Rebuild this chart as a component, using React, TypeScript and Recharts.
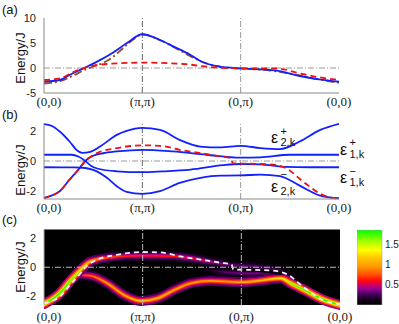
import React from "react";
import {
  LineChart,
  Line,
  XAxis,
  YAxis,
  ReferenceLine,
  CartesianGrid,
  BarChart,
  Bar,
} from "recharts";

// path through the Brillouin zone: 0 = (0,0), 1 = (π,π), 2 = (0,π), 3 = (0,0)
const kTicks = [0, 1, 2, 3];
const kLabels = ["(0,0)", "(π,π)", "(0,π)", "(0,0)"];

// ---- panel (a)
const aBlue = [
  [0, -2.73], [0.16, -2.4], [0.26, -1.4], [0.4, -0.07], [0.54, 1.27], [0.7, 3.07],
  [0.84, 4.93], [1.0, 6.75], [1.18, 5.6], [1.32, 4.27], [1.49, 2.6], [1.59, 1.4],
  [1.79, 0.27], [2.0, -0.07], [2.2, -0.27], [2.37, -0.53], [2.6, -1.6], [2.8, -2.27], [3.0, -2.75],
];
const aBrown = [
  [0, -3.1], [0.15, -2.7], [0.3, -1.5], [0.4, -0.5], [0.5, 0.3], [0.6, 1.0], [0.7, 2.2],
  [0.8, 3.9], [0.9, 5.6], [1.0, 6.7], [1.2, 5.4], [1.4, 3.3], [1.6, 1.3], [1.8, 0.2],
  [2.0, -0.1], [2.3, -0.5], [2.6, -1.5], [2.8, -2.3], [3.0, -2.95],
];
const aRed = [
  [0, -2.4], [0.16, -2.07], [0.3, -0.8], [0.43, 0.13], [0.64, 0.8], [1.0, 1.07],
  [1.45, 0.75], [1.59, 0.4], [1.8, 0.05], [2.0, -0.07], [2.37, -0.1], [2.6, -1.07],
  [2.8, -1.87], [3.0, -2.4],
];

// ---- panel (b)
const bEps2Plus = [
  [0, 2.47], [0.08, 2.35], [0.16, 1.98], [0.26, 1.31], [0.33, 0.75], [0.39, 0.55],
  [0.47, 0.62], [0.57, 0.97], [0.74, 1.75], [0.84, 2.02], [1.0, 2.22], [1.18, 2.09],
  [1.38, 1.42], [1.59, 0.97], [1.79, 0.91], [2.0, 1.02], [2.2, 0.87], [2.4, 0.8],
  [2.6, 1.31], [2.81, 2.09], [3.0, 2.5],
];
const bEps1Minus = [
  [0, 0.42], [0.28, 0.42], [0.35, 0.3], [0.42, 0], [0.48, -0.33], [0.55, -0.52],
  [0.74, -0.69], [1.0, -0.75], [1.2, -0.7], [1.49, -0.58], [1.82, -0.28], [2.0, -0.2],
  [2.2, -0.22], [2.46, -0.4], [2.7, -0.42], [3.0, -0.42],
];
const bEps2Minus = [
  [0, -0.42], [0.3, -0.43], [0.42, -0.47], [0.5, -0.6], [0.64, -1.13], [0.74, -1.69],
  [0.84, -2.07], [1.0, -2.2], [1.18, -2.02], [1.38, -1.47], [1.59, -1.13], [1.79, -0.98],
  [2.0, -0.97], [2.2, -0.91], [2.4, -1.02], [2.6, -1.65], [2.8, -2.3], [3.0, -2.5],
];
const bEps1Plus = [
  [0, -2.47], [0.06, -2.36], [0.16, -2.03], [0.26, -1.25], [0.35, -0.58], [0.42, 0],
  [0.5, 0.35], [0.6, 0.52], [0.74, 0.64], [1.0, 0.75], [1.31, 0.64], [1.65, 0.42],
  [2.0, 0.22], [2.2, 0.25], [2.5, 0.42], [3.0, 0.42],
];
// bare band (red dashed in b, white dashed in c)
const bare = [
  [0, -2.5], [0.06, -2.36], [0.16, -2.03], [0.26, -1.25], [0.35, -0.58], [0.42, 0],
  [0.54, 0.53], [0.74, 0.86], [1.0, 1.05], [1.18, 1.02], [1.38, 0.75], [1.59, 0.53],
  [1.79, 0.31], [1.9, 0.2], [1.92, -0.16], [2.1, -0.18], [2.3, -0.22], [2.46, -0.47],
  [2.63, -1.36], [2.81, -2.2], [3.0, -2.55],
];

// ---- panel (c): [k, energy, spectral weight]
const cUpper = [
  [0, -2.53, 1.8], [0.16, -1.79, 1.8], [0.26, -0.99, 1.7], [0.37, -0.19, 1.45],
  [0.47, 0.39, 1.1], [0.64, 0.66, 0.75], [0.8, 0.76, 0.65], [0.98, 0.8, 0.62],
  [1.32, 0.76, 0.62], [1.49, 0.62, 0.6], [1.69, 0.39, 0.45], [1.89, 0.16, 0.32],
  [2.16, 0.04, 0.28], [2.4, -0.19, 0.2],
];
const cLower = [
  [0.33, -0.53, 0.45], [0.4, -0.55, 0.7], [0.47, -0.58, 0.85], [0.64, -1.1, 1.0],
  [0.81, -1.91, 1.05], [0.98, -2.32, 1.15], [1.15, -2.14, 1.1], [1.32, -1.57, 1.05],
  [1.49, -1.1, 1.0], [1.69, -0.94, 1.0], [1.99, -1.03, 1.05], [2.16, -0.94, 1.1],
  [2.4, -0.76, 1.3], [2.5, -1.1, 1.6], [2.67, -1.68, 1.75], [2.84, -2.26, 1.8], [3.0, -2.6, 1.8],
];
const cFaint = [
  [1.65, -0.15, 0.1], [1.85, -0.35, 0.3], [2.1, -0.42, 0.35], [2.4, -0.4, 0.3], [2.5, -0.55, 0.1],
];
const cbarMax = 1.85;
const cbarTicks = [0.5, 1, 1.5];

const cmapStops: [number, string][] = [
  [0, "#000000"], [0.15, "#1a0020"], [0.3, "#5a0070"], [0.4, "#9a0090"], [0.5, "#d00060"],
  [0.58, "#ff0010"], [0.75, "#ff5000"], [0.95, "#ff9800"], [1.2, "#ffd000"],
  [1.35, "#ffff00"], [1.55, "#b0ff00"], [1.85, "#00ff00"],
];

const hex = (c: string) => [1, 3, 5].map((i) => parseInt(c.slice(i, i + 2), 16));
function cmap(v: number) {
  if (v <= cmapStops[0][0]) return cmapStops[0][1];
  for (let i = 1; i < cmapStops.length; i++) {
    const [v1, c1] = cmapStops[i];
    if (v <= v1) {
      const [v0, c0] = cmapStops[i - 1];
      const t = (v - v0) / (v1 - v0);
      const a = hex(c0), b = hex(c1);
      return `rgb(${a.map((x, j) => Math.round(x + (b[j] - x) * t)).join(",")})`;
    }
  }
  return cmapStops[cmapStops.length - 1][1];
}

const glow = [
  { w: 10, k: 0.25 },
  { w: 6.5, k: 0.45 },
  { w: 3.8, k: 0.7 },
  { w: 1.6, k: 1 },
];

const pts = (arr: number[][]) => arr.map(([x, y]) => ({ x, y }));

const sans = "Liberation Sans, Arial, sans-serif";
const serif = "Liberation Serif, Times New Roman, serif";
const axisGray = "#8a8a8a";
const dashDot = "6 2 1 2";

const XTick = (props: any) => {
  const { x, y, payload } = props;
  const v = payload.value;
  return (
    <text x={x + (v === 0 ? 5 : 0)} y={y} dy="0.71em" textAnchor="middle"
      fontFamily={serif} fontSize={13} fill="#222">
      {kLabels[v]}
    </text>
  );
};

const yTick = { fontSize: 11, fill: "#222", fontFamily: sans };

function xAxis(height: number, margin: number, line: boolean) {
  return (
    <XAxis type="number" dataKey="x" domain={[0, 3]} ticks={kTicks} allowDataOverflow
      height={height} tickLine={false} tickSize={0} tickMargin={margin}
      axisLine={line ? { stroke: axisGray } : false} tick={<XTick />} />
  );
}

function curve(data: number[][], color: string, dash?: string) {
  return (
    <Line data={pts(data)} dataKey="y" type="monotone" stroke={color}
      strokeWidth={1.8} strokeDasharray={dash} dot={false} activeDot={false}
      isAnimationActive={false} />
  );
}

function PanelA() {
  return (
    <LineChart width={399} height={110} margin={{ top: 18, right: 60, left: 0, bottom: 0 }}>
      {xAxis(17, 4, true)}
      <YAxis type="number" domain={[-5, 10]} ticks={[-5, 0, 5, 10]} width={44}
        tickLine={false} tickSize={0} tickMargin={8} tick={yTick} axisLine={{ stroke: axisGray }} />
      <ReferenceLine y={0} stroke="#999" strokeDasharray={dashDot} />
      <ReferenceLine x={1} stroke="#666" strokeDasharray={dashDot} />
      <ReferenceLine x={2} stroke="#999" strokeDasharray={dashDot} />
      {curve(aBrown, "#9a4a25", "8 3 2 3")}
      {curve(aBlue, "#1020ff")}
      {curve(aRed, "#ee1111", "6 4")}
    </LineChart>
  );
}

function PanelB() {
  return (
    <LineChart width={399} height={113} margin={{ top: 18, right: 60, left: 0, bottom: 0 }}>
      {xAxis(19, 4, true)}
      <YAxis type="number" domain={[-2.55, 2.55]} ticks={[-2, -1, 0, 1, 2]} width={44}
        tickLine={false} tickSize={0} tickMargin={8} tick={yTick} axisLine={{ stroke: axisGray }} />
      <ReferenceLine y={0} stroke="#999" strokeDasharray={dashDot} />
      <ReferenceLine x={1} stroke="#666" strokeDasharray={dashDot} />
      <ReferenceLine x={2} stroke="#999" strokeDasharray={dashDot} />
      {curve(bEps2Plus, "#1020ff")}
      {curve(bEps1Minus, "#1020ff")}
      {curve(bEps2Minus, "#1020ff")}
      {curve(bEps1Plus, "#1020ff")}
      {curve(bare, "#ee1111", "6 4")}
    </LineChart>
  );
}

const heat = [
  { id: "faint", data: cFaint },
  { id: "lower", data: cLower },
  { id: "upper", data: cUpper },
];

function PanelC() {
  return (
    <LineChart width={399} height={114} margin={{ top: 19.5, right: 59, left: 0, bottom: 0 }}>
      <defs>
        {heat.map((b) => {
          const x0 = b.data[0][0];
          const x1 = b.data[b.data.length - 1][0];
          return glow.map((g, i) => (
            <linearGradient key={b.id + i} id={`${b.id}-${i}`} x1="0" y1="0" x2="1" y2="0">
              {b.data.map(([x, , w], j) => (
                <stop key={j} offset={(x - x0) / (x1 - x0)} stopColor={cmap(w * g.k)} />
              ))}
            </linearGradient>
          ));
        })}
      </defs>
      <CartesianGrid fill="#000" fillOpacity={1} horizontal={false} vertical={false} />
      {xAxis(19, 7, false)}
      <YAxis type="number" domain={[-2.6, 2.6]} ticks={[-2, -1, 0, 1, 2]} width={44}
        tickLine={false} tickSize={0} tickMargin={8} tick={yTick} axisLine={{ stroke: "#aaa" }} />
      {heat.map((b) =>
        glow.map((g, i) => (
          <Line key={b.id + i} data={pts(b.data)} dataKey="y" type="monotone"
            stroke={`url(#${b.id}-${i})`} strokeWidth={g.w} strokeLinecap="round"
            dot={false} activeDot={false} isAnimationActive={false} />
        ))
      )}
      {curve(bare, "#f2f2f2", "5 4")}
      <ReferenceLine y={0} stroke="#bbb" strokeDasharray={dashDot} />
      <ReferenceLine x={1} stroke="#bbb" strokeDasharray={dashDot} />
      <ReferenceLine x={2} stroke="#bbb" strokeDasharray={dashDot} />
    </LineChart>
  );
}

function ColorBar() {
  const stops = Array.from({ length: 38 }, (_, i) => (cbarMax * (37 - i)) / 37);
  return (
    <BarChart width={42} height={75} data={[{ name: "A", v: cbarMax }]}
      margin={{ top: 0, right: 0, left: 0, bottom: 0 }} barCategoryGap={0}>
      <defs>
        <linearGradient id="cbar" x1="0" y1="0" x2="0" y2="1">
          {stops.map((v, i) => (
            <stop key={i} offset={i / 37} stopColor={cmap(v)} />
          ))}
        </linearGradient>
      </defs>
      <XAxis dataKey="name" hide />
      <YAxis orientation="right" domain={[0, cbarMax]} ticks={cbarTicks} width={17}
        tickLine={false} axisLine={false} tickSize={0} tickMargin={3}
        tick={{ fontSize: 10, fill: "#222", fontFamily: sans, textAnchor: "start" }} />
      <Bar dataKey="v" fill="url(#cbar)" stroke="#aaa" strokeWidth={0.6} isAnimationActive={false} />
    </BarChart>
  );
}

const Eps = ({ x, y, sup, sub, supY, subY }: any) => (
  <g fontFamily={sans} fill="#111">
    <text x={x} y={y} fontSize={16}>ε</text>
    <text x={x + 9.5} y={supY} fontSize={11}>{sup}</text>
    <text x={x + 9.5} y={subY} fontSize={11}>{sub}</text>
  </g>
);

export default function App() {
  return (
    <div style={{ position: "absolute", left: 0, top: 0, width: 399, height: 324, background: "#fff" }}>
      <div style={{ position: "absolute", left: 0, top: 0 }}><PanelA /></div>
      <div style={{ position: "absolute", left: 0, top: 105 }}><PanelB /></div>
      <div style={{ position: "absolute", left: 0, top: 210 }}><PanelC /></div>
      <div style={{ position: "absolute", left: 357, top: 230 }}><ColorBar /></div>
      <svg width={399} height={324} style={{ position: "absolute", left: 0, top: 0, pointerEvents: "none" }}>
        <g fontFamily={sans} fontSize={13} fill="#111">
          <text x={2} y={14}>(a)</text>
          <text x={2} y={119}>(b)</text>
          <text x={2} y={224}>(c)</text>
          <text transform="translate(25,58) rotate(-90)" textAnchor="middle">Energy/J</text>
          <text transform="translate(25,170) rotate(-90)" textAnchor="middle">Energy/J</text>
          <text transform="translate(25,267) rotate(-90)" textAnchor="middle">Energy/J</text>
        </g>
        <Eps x={271} y={143} sup="+" supY={135} sub="2,k" subY={146} />
        <Eps x={340} y={155} sup="+" supY={146} sub="1,k" subY={158} />
        <Eps x={340} y={183} sup="−" supY={175} sub="1,k" subY={186} />
        <Eps x={271} y={192} sup="−" supY={178} sub="2,k" subY={195} />
      </svg>
    </div>
  );
}
